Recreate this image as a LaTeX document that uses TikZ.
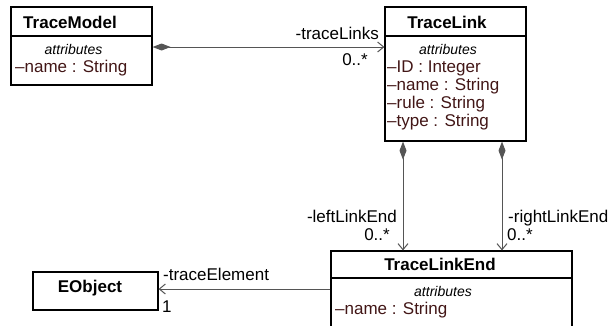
\documentclass[tikz,border=0pt]{standalone}
\usepackage{fontspec}
\setmainfont{Liberation Sans}
\usetikzlibrary{arrows.meta}

\definecolor{attrtext}{RGB}{66,22,22}
\definecolor{linkgray}{RGB}{85,85,85}

\tikzset{
  classbox/.style={draw,line width=1.2pt,inner sep=0pt},
  classname/.style={font=\fontsize{17}{20}\selectfont\bfseries,inner sep=0pt,anchor=base},
  attrhead/.style={font=\fontsize{14}{16}\selectfont\itshape,inner sep=0pt,anchor=base},
  attr/.style={font=\fontsize{17}{20}\selectfont,text=attrtext,inner sep=0pt,anchor=base west},
  role/.style={font=\fontsize{17}{20}\selectfont,inner sep=0pt},
  assoc/.style={draw=linkgray,line width=1pt,-{Straight Barb[length=6pt,width=10pt]}},
  comp/.style={assoc,{Diamond[length=18pt,width=7pt,fill=linkgray]}-{Straight Barb[length=6pt,width=10pt]}},
}

\begin{document}
\begin{tikzpicture}[x=1pt,y=-1pt]

\useasboundingbox (0,0) rectangle (611,325);

% TraceModel
\node[classbox,minimum width=141pt,minimum height=78pt] (TraceModel) at (81.5,46) {};
\draw[line width=1.2pt] (TraceModel.west |- 0,36) -- (TraceModel.east |- 0,36);
\node[classname] (tmtitle) at (70,28) {TraceModel};
\node[attrhead] (tmattr) at (73.5,54) {attributes};
\node[attr] (tmname) at (15,72) {–name : String};

% TraceLink
\node[classbox,minimum width=141pt,minimum height=134pt] (TraceLink) at (455.5,74) {};
\draw[line width=1.2pt] (TraceLink.west |- 0,36) -- (TraceLink.east |- 0,36);
\node[classname] (tltitle) at (447,28) {TraceLink};
\node[attrhead] (tlattr) at (448,54) {attributes};
\node[attr] (tlid) at (387,72) {–ID : Integer};
\node[attr] (tlname) at (387,90) {–name : String};
\node[attr] (tlrule) at (387,108) {–rule : String};
\node[attr] (tltype) at (387,126) {–type : String};

% TraceLinkEnd
\node[classbox,minimum width=241pt,minimum height=100pt] (TraceLinkEnd) at (451.5,301) {};
\draw[line width=1.2pt] (TraceLinkEnd.west |- 0,278) -- (TraceLinkEnd.east |- 0,278);
\node[classname] (tletitle) at (440,270) {TraceLinkEnd};
\node[attrhead] (tleattr) at (443,296) {attributes};
\node[attr] (tlename) at (335,314) {–name : String};

% EObject
\node[classbox,minimum width=125pt,minimum height=38pt] (EObject) at (95.5,291) {};
\node[classname] (eotitle) at (90,292) {EObject};

% associations
\draw[comp] (TraceModel.east |- 0,47) -- (TraceLink.west |- 0,47);
\node[role,anchor=base east] (tlrole) at (379,39) {-traceLinks};
\node[role,anchor=base east] (tlmult) at (368,65) {0..*};

\draw[comp] (TraceLink.south -| 403,0) -- (TraceLinkEnd.north -| 403,0);
\node[role,anchor=base east] (leftrole) at (397,222) {-leftLinkEnd};
\node[role,anchor=base east] (leftmult) at (390,240) {0..*};

\draw[comp] (TraceLink.south -| 502,0) -- (TraceLinkEnd.north -| 502,0);
\node[role,anchor=base west] (rightrole) at (508,222) {-rightLinkEnd};
\node[role,anchor=base west] (rightmult) at (507,240) {0..*};

\draw[assoc] (TraceLinkEnd.west |- 0,289) -- (EObject.east |- 0,289);
\node[role,anchor=base west] (elemrole) at (163,280) {-traceElement};
\node[role,anchor=base west] (elemmult) at (162,312) {1};

\end{tikzpicture}
\end{document}
